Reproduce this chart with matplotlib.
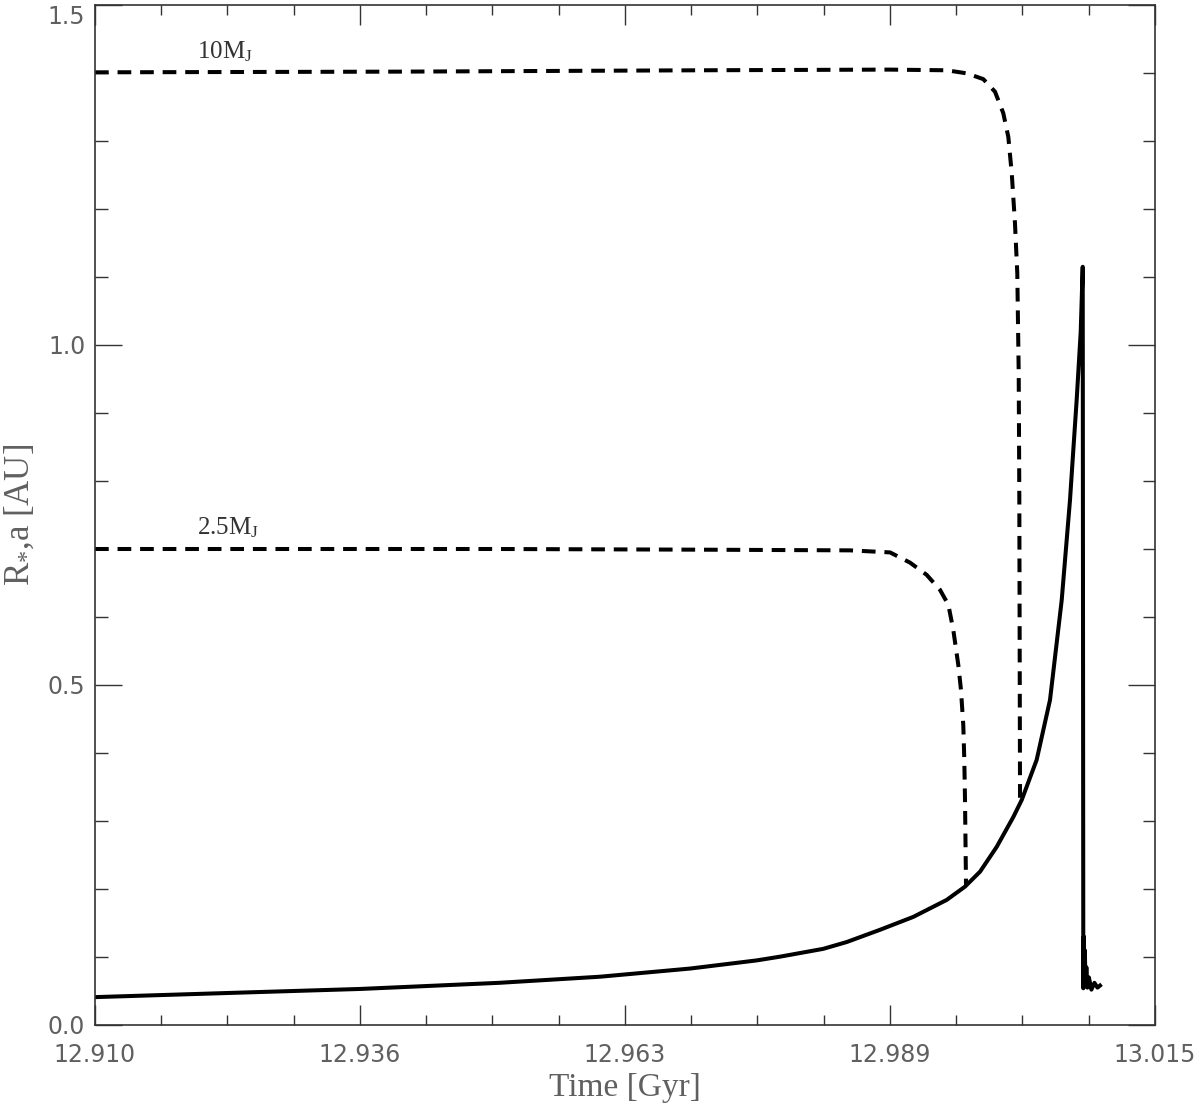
import matplotlib
matplotlib.use("Agg")
import matplotlib.pyplot as plt
import matplotlib.transforms as mtransforms
from matplotlib.ticker import AutoMinorLocator, FixedLocator

plt.rcParams["mathtext.fontset"] = "custom"
plt.rcParams["mathtext.rm"] = "Liberation Serif"
plt.rcParams["mathtext.it"] = "Liberation Serif:italic"

# stellar radius R_* (solid)
star_time = [12.910, 12.923, 12.93625, 12.950, 12.96002, 12.96894, 12.97555,
             12.97786, 12.98214, 12.98446, 12.98776, 12.99106, 12.99437,
             12.99618, 12.99767, 12.99932, 13.00097, 13.00180, 13.00328,
             13.00460, 13.00576, 13.00658, 13.00691, 13.00724, 13.00764,
             13.00784, 13.00790, 13.00795, 13.00800, 13.00805, 13.00812,
             13.00820, 13.00830, 13.00845, 13.00870, 13.00900, 13.00930,
             13.00955]
star_radius = [0.041, 0.047, 0.053, 0.062, 0.071, 0.083, 0.095,
               0.1005, 0.112, 0.122, 0.140, 0.159, 0.184,
               0.2035, 0.2255, 0.262, 0.306, 0.331, 0.390,
               0.478, 0.625, 0.772, 0.846, 0.919, 1.019,
               1.115, 0.054, 0.130, 0.060, 0.110, 0.058,
               0.085, 0.055, 0.070, 0.052, 0.062, 0.055,
               0.058]

# orbit of the 10 M_J planet (dashed)
p10_time = [12.910, 12.940, 12.970, 12.98858, 12.99437, 12.99635, 12.99799,
            12.99915, 12.99997, 13.00047, 13.00081, 13.00113, 13.00136,
            13.00150, 13.00156, 13.00163]
p10_a = [1.401, 1.402, 1.404, 1.405, 1.404, 1.3995, 1.391,
         1.3725, 1.341, 1.306, 1.2525, 1.179, 1.105,
         0.958, 0.776, 0.333]

# orbit of the 2.5 M_J planet (dashed)
p25_time = [12.910, 12.950, 12.970, 12.98479, 12.98875, 12.99073, 12.99238,
            12.99370, 12.99453, 12.99502, 12.99552, 12.99578, 12.99601,
            12.99611, 12.99618, 12.99628]
p25_a = [0.700, 0.700, 0.699, 0.698, 0.695, 0.680, 0.662,
         0.640, 0.618, 0.581, 0.529, 0.493, 0.441,
         0.390, 0.331, 0.205]

x_ticks = [12.910, 12.93625, 12.9625, 12.98875, 13.015]
x_tick_labels = ["12.910", "12.936", "12.963", "12.989", "13.015"]
y_ticks = [0.0, 0.5, 1.0, 1.5]
y_tick_labels = ["0.0", "0.5", "1.0", "1.5"]

gray = "#606060"
tick_font = ["Liberation Sans Narrow", "DejaVu Sans"]
label_font = ["Liberation Serif", "DejaVu Serif"]

fig = plt.figure(figsize=(12, 11.04), dpi=100)
ax = fig.add_axes([95 / 1200, 1 - 1025 / 1104, 1060 / 1200, 1020 / 1104])

dash = (0, (3.4, 2.2))
ax.plot(star_time, star_radius, color="black", lw=2.9)
ax.plot(p10_time, p10_a, color="black", lw=2.9, linestyle=dash)
ax.plot(p25_time, p25_a, color="black", lw=2.9, linestyle=dash)

ax.text(12.9201, 1.431, "10M$_{\\mathrm{J}}$", fontsize=18, family=label_font,
        color="#333333", ha="left", va="center")
ax.text(12.9201, 0.731, "2.5M$_{\\mathrm{J}}$", fontsize=18, family=label_font,
        color="#333333", ha="left", va="center")

ax.set_xlim(12.910, 13.015)
ax.set_ylim(0.0, 1.5)
ax.xaxis.set_major_locator(FixedLocator(x_ticks))
ax.set_xticklabels(x_tick_labels)
ax.yaxis.set_major_locator(FixedLocator(y_ticks))
ax.set_yticklabels(y_tick_labels)
ax.xaxis.set_minor_locator(AutoMinorLocator(4))
ax.yaxis.set_minor_locator(AutoMinorLocator(5))

ax.tick_params(axis="both", which="both", direction="in", top=True, right=True,
               color="#333333", width=1.0, labelcolor=gray, labelsize=17)
ax.tick_params(axis="x", which="major", length=14.4, pad=13)
ax.tick_params(axis="x", which="minor", length=7.2)
ax.tick_params(axis="y", which="major", length=19.5, pad=7)
ax.tick_params(axis="y", which="minor", length=9)
for lab in ax.get_xticklabels() + ax.get_yticklabels():
    lab.set_family(tick_font)

# IDL puts the top label just under the frame
top_lab = ax.get_yticklabels()[-1]
top_lab.set_transform(top_lab.get_transform() +
                      mtransforms.ScaledTranslation(0, -10 / 100, fig.dpi_scale_trans))

for sp in ax.spines.values():
    sp.set_color("#333333")
    sp.set_linewidth(1.2)

ax.set_xlabel("Time [Gyr]", fontsize=24, family=label_font, color=gray, labelpad=4)
ax.set_ylabel("R$_{*}$,a [AU]", fontsize=25, family=label_font, color=gray, labelpad=8)

fig.savefig("out.png", dpi=100)
